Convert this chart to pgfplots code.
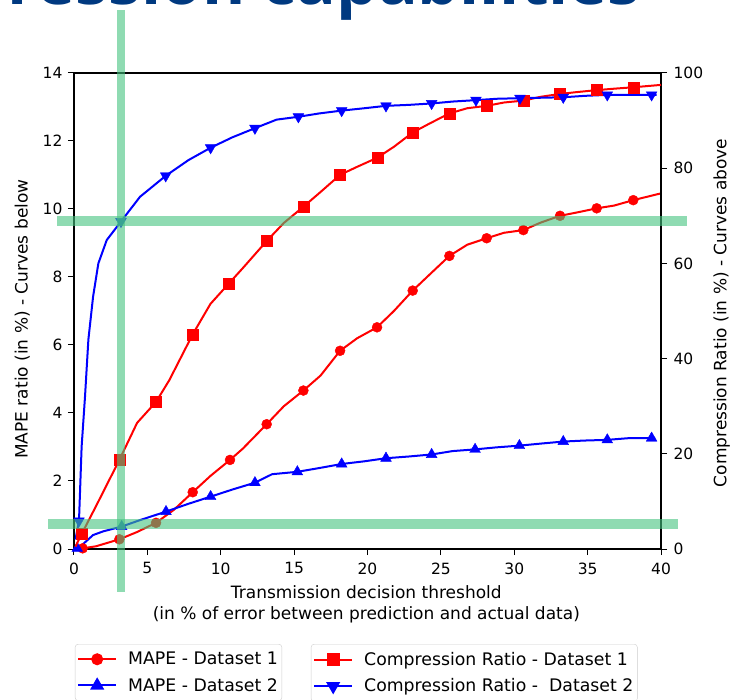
\documentclass[border=0pt]{standalone}
\usepackage{pgfplots}
\pgfplotsset{compat=1.18}
\usepackage{fontspec}
\setmainfont{DejaVu Sans}
\newfontfamily\titlefont{Open Sans}
\definecolor{titleblue}{RGB}{0,57,128}
\definecolor{hl}{RGB}{68,195,127}

\pgfplotstableread{
x y
0 0
0.6 0.02
1.5 0.08
3.09 0.285
4.3 0.5
5.59 0.77
6.8 1.15
8.09 1.67
9.3 2.15
10.63 2.62
11.5 2.95
13.13 3.67
14.3 4.2
15.63 4.66
16.8 5.1
18.13 5.83
19.3 6.2
20.65 6.52
21.8 7.0
23.08 7.6
24.3 8.1
25.58 8.62
26.8 8.95
28.12 9.14
29.3 9.3
30.62 9.38
31.8 9.6
33.12 9.80
34.3 9.9
35.62 10.02
36.8 10.1
38.11 10.26
40 10.46
}\mapeA
\pgfplotstableread{
x y
0.59 0.02
3.09 0.285
5.59 0.77
8.09 1.67
10.63 2.62
13.13 3.67
15.63 4.66
18.13 5.83
20.65 6.52
23.08 7.6
25.58 8.62
28.12 9.14
30.62 9.38
33.12 9.80
35.62 10.02
38.11 10.26
}\mapeAm
\pgfplotstableread{
x y
0 0
0.5 0.1
1.3 0.41
2.0 0.52
3.25 0.66
4.5 0.85
6.27 1.10
7.8 1.33
9.31 1.54
10.8 1.75
12.33 1.95
13.5 2.2
15.22 2.27
16.7 2.38
18.24 2.50
19.8 2.58
21.26 2.67
22.8 2.72
24.37 2.78
25.8 2.88
27.33 2.93
28.8 2.99
30.35 3.04
31.8 3.10
33.34 3.16
34.8 3.19
36.34 3.21
37.8 3.26
39.6 3.26
}\mapeB
\pgfplotstableread{
x y
0.22 0.02
3.25 0.66
6.27 1.10
9.31 1.54
12.33 1.95
15.22 2.27
18.24 2.50
21.26 2.67
24.37 2.78
27.33 2.93
30.35 3.04
33.34 3.16
36.34 3.21
39.36 3.26
}\mapeBm
\pgfplotstableread{
x y
0.1 0.5
0.52 3.15
1.5 9
3.09 18.7
4.3 26.5
5.59 30.9
6.5 35.5
8.09 45.1
9.3 51.5
10.56 55.8
11.5 59
13.13 64.7
14.3 68.5
15.63 71.9
16.8 75
18.13 78.6
19.3 80.3
20.67 82.2
21.8 84.5
23.08 87.5
24.3 89.5
25.58 91.5
26.8 92.6
28.12 93.1
29.3 93.8
30.62 94.2
31.8 95
33.12 95.6
34.3 96
35.62 96.4
36.8 96.7
38.11 97.0
40 97.5
}\crA
\pgfplotstableread{
x y
0.52 3.15
3.09 18.7
5.59 30.9
8.09 45.1
10.56 55.8
13.13 64.7
15.63 71.9
18.13 78.6
20.67 82.2
23.08 87.5
25.58 91.5
28.12 93.1
30.62 94.2
33.12 95.6
35.62 96.4
38.11 97.0
}\crAm
\pgfplotstableread{
x y
0.1 2
0.34 5.9
0.52 21.5
0.75 32
0.98 44
1.3 53
1.66 60
2.23 64.9
3.2 68.8
4.5 74
6.25 78.4
7.8 81.7
9.31 84.3
10.8 86.5
12.33 88.4
13.8 90.2
15.29 90.8
16.7 91.5
18.24 92.1
19.8 92.6
21.26 93.1
22.8 93.3
24.37 93.6
25.8 94
27.39 94.3
28.9 94.6
30.39 94.7
31.8 94.8
33.34 94.9
34.8 95.2
36.34 95.4
37.8 95.4
39.7 95.4
}\crB
\pgfplotstableread{
x y
0.34 5.9
3.2 68.8
6.25 78.4
9.31 84.3
12.33 88.4
15.29 90.8
18.24 92.1
21.26 93.1
24.37 93.6
27.39 94.3
30.39 94.7
33.34 94.9
36.34 95.4
39.36 95.4
}\crBm

\pgfplotsset{
  myaxis/.style={
    at={(74pt,150pt)}, anchor=south west, scale only axis,
    width=587pt, height=476pt,
    xmin=0, xmax=40,
    tick align=outside, major tick length=6pt,
    every tick/.style={black, line width=1pt},
    axis line style={line width=1.2pt},
    /pgf/number format/assume math mode=true,
    ticklabel style={font=\fontsize{15.5}{18}\selectfont},
    label style={font=\fontsize{17}{21}\selectfont},
    legend image code/.code={\draw[mark repeat=2,mark phase=2,##1] plot coordinates {(0pt,0pt) (19pt,0pt) (38pt,0pt)};},
    legend style={anchor=north west, draw=black!20, rounded corners=3pt, fill=white,
      font=\fontsize{17.3}{20}\selectfont, inner xsep=2pt, inner ysep=6pt,
      row sep=8pt, column sep=9pt, nodes={inner sep=2pt}},
    legend cell align=left,
  },
}

\begin{document}
\begin{tikzpicture}[x=1pt,y=1pt]
\path[use as bounding box] (0,0) rectangle (731,699);
\node[anchor=base east, font=\titlefont\bfseries\fontsize{66}{70}\selectfont, text=titleblue, inner sep=0] at (641,694) {ression capabilities};

\begin{axis}[myaxis,
  ymin=0, ymax=14,
  xtick={0,5,...,40}, ytick={0,2,...,14},
  xtick pos=left, ytick pos=left,
  xticklabel style={yshift=-4pt},
  yticklabel style={xshift=-2pt},
  xlabel={Transmission decision threshold\\(in \% of error between prediction and actual data)},
  xlabel style={align=center, at={(axis description cs:0.498,-0.1166)}, anchor=center},
  ylabel={MAPE ratio (in \%) - Curves below},
  ylabel style={at={(axis description cs:-0.088,0.483)}, anchor=center, rotate=0},
  legend style={at={(axis description cs:0.0017,-0.1996)}},
]
\addplot[red, line width=2pt, forget plot] table {\mapeA};
\addplot[red, only marks, mark=*, mark size=5pt, forget plot] table {\mapeAm};
\addplot[blue, line width=2pt, forget plot] table {\mapeB};
\addplot[blue, only marks, mark=triangle*, mark size=6.2pt, forget plot] table {\mapeBm};
\addlegendimage{red, line width=2pt, mark=*, mark size=5pt}
\addlegendentry{MAPE - Dataset 1}
\addlegendimage{blue, line width=2pt, mark=triangle*, mark size=6.2pt}
\addlegendentry{MAPE - Dataset 2}
\end{axis}

\begin{axis}[myaxis,
  ymin=0, ymax=100,
  axis x line=none, axis y line*=right,
  ytick={0,20,...,100},
  yticklabel style={xshift=3pt},
  ylabel={Compression Ratio (in \%) - Curves above},
  ylabel style={at={(axis description cs:1.1034,0.496)}, anchor=center, rotate=0},
  legend style={at={(axis description cs:0.4037,-0.1996)}},
]
\addplot[red, line width=2pt, forget plot] table {\crA};
\addplot[red, only marks, mark=square*, mark size=5.5pt, forget plot] table {\crAm};
\addplot[blue, line width=2pt, forget plot] table {\crB};
\addplot[blue, only marks, mark=triangle*, mark size=6.2pt, mark options={rotate=180}, forget plot] table {\crBm};
\addlegendimage{red, line width=2pt, mark=square*, mark size=5.5pt}
\addlegendentry{Compression Ratio - Dataset 1}
\addlegendimage{blue, line width=2pt, mark=triangle*, mark size=6.2pt, mark options={rotate=180}}
\addlegendentry{Compression Ratio -\ \ Dataset 2}
\end{axis}

\draw[hl, opacity=0.6, line width=8pt] (121,689) -- (121,107);
\draw[hl, opacity=0.6, line width=10pt] (57,477.5) -- (687,477.5);
\draw[hl, opacity=0.6, line width=10pt] (48,174.5) -- (678,174.5);
\end{tikzpicture}
\end{document}
